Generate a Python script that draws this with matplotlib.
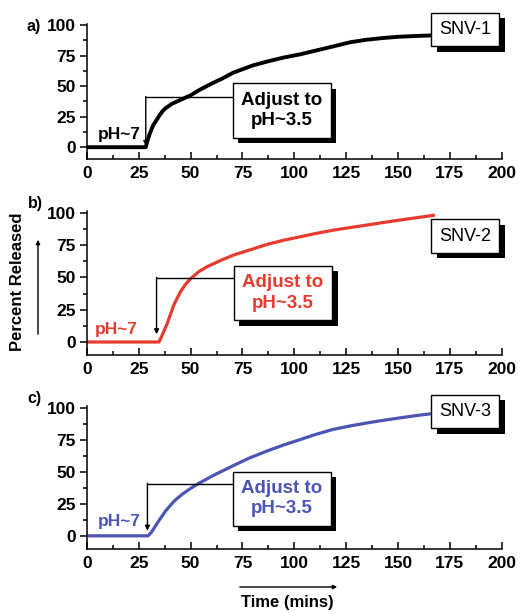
import matplotlib.pyplot as plt
import matplotlib.patheffects as pe
from matplotlib.patches import FancyArrowPatch
from matplotlib.ticker import MultipleLocator

plt.rcParams['font.family'] = ['Liberation Sans', 'DejaVu Sans']
plt.rcParams['font.weight'] = 'bold'

# release curves (time in mins, percent released)
t_snv1 = [0, 10, 20, 28.4, 29, 30.3, 32, 35, 36.5, 38, 41, 44.8, 50, 54.4, 60, 65, 70.5,
          80, 86.5, 95, 102.6, 110, 118.6, 127, 134.7, 143, 150.7, 157, 165]
p_snv1 = [0, 0, 0, 0, 4, 11, 18, 26, 29.5, 32, 35.5, 38.5, 42.5, 47, 52, 56, 61,
          67, 70, 73.5, 76, 79, 82.5, 86, 88, 89.5, 90.5, 91, 91.5]

t_snv2 = [0, 10, 20, 30, 34.8, 36.5, 38.8, 42, 45, 47.5, 50, 54, 58, 65, 70.9, 80, 87,
          95, 103, 111, 119, 127, 135, 143, 151, 159, 167]
p_snv2 = [0, 0, 0, 0, 0, 6, 14.6, 29, 38.5, 44.5, 49, 54.5, 58.3, 63.5, 67.4, 72, 75.6,
          78.8, 81.5, 84.2, 86.6, 88.6, 90.5, 92.5, 94.4, 96.2, 98]

t_snv3 = [0, 10, 20, 29.5, 31, 33, 35, 38, 42, 46, 50, 54, 62, 70.5, 78, 86.5, 95, 102.6,
          110, 118.6, 127, 134.7, 143, 150.7, 159, 167]
p_snv3 = [0, 0, 0, 0, 2.5, 7.5, 12.5, 19.5, 27, 32.5, 37, 41, 48, 54.7, 60.5, 66, 71, 75,
          79, 83, 85.8, 88, 90.2, 92, 93.9, 95.5]

xticks = [0, 25, 50, 75, 100, 125, 150, 175, 200]
yticks = [0, 25, 50, 75, 100]

panels = [
    dict(t=t_snv1, p=p_snv1, color='black', name='SNV-1', tag='a)', lw=2.8,
         pos=[0.167, 0.740, 0.798, 0.221],
         step_x=28.4, step_top=41, step_bot=1, box=(94, 30), name_y=96.5,
         ph7=(15.6, 10.6), tag_xy=(34, 26)),
    dict(t=t_snv2, p=p_snv2, color='#e63b2e', name='SNV-2', tag='b)', lw=2.3,
         pos=[0.167, 0.421, 0.798, 0.234],
         step_x=33.6, step_top=49.6, step_bot=6, box=(94.5, 38), name_y=82,
         ph7=(14, 9.3), tag_xy=(35, 203)),
    dict(t=t_snv3, p=p_snv3, color='#4a55b4', name='SNV-3', tag='c)', lw=2.3,
         pos=[0.167, 0.105, 0.798, 0.232],
         step_x=29.2, step_top=40.6, step_bot=4, box=(94, 29), name_y=97,
         ph7=(15.6, 11), tag_xy=(34, 399)),
]

fig = plt.figure(figsize=(5.2, 6.13), dpi=100)
shadow = [pe.SimplePatchShadow(offset=(4, -4), shadow_rgbFace='black', alpha=1), pe.Normal()]

for cfg in panels:
    ax = fig.add_axes(cfg['pos'])
    ax.plot(cfg['t'], cfg['p'], color=cfg['color'], lw=cfg['lw'])
    ax.set_xlim(0, 200)
    ax.set_ylim(-10, 101)
    ax.set_xticks(xticks)
    ax.set_yticks(yticks)
    ax.xaxis.set_minor_locator(MultipleLocator(12.5))
    ax.yaxis.set_minor_locator(MultipleLocator(12.5))
    ax.tick_params(axis='x', which='major', direction='in', length=5, width=1.1, labelsize=12.5, pad=5)
    ax.tick_params(axis='x', which='minor', direction='in', length=3, width=1.1)
    ax.tick_params(axis='y', which='major', direction='out', length=5, width=1.1, labelsize=12.5, pad=3)
    ax.tick_params(axis='y', which='minor', direction='out', length=3, width=1.1)
    for s in ['top', 'right']:
        ax.spines[s].set_visible(False)
    for s in ['left', 'bottom']:
        ax.spines[s].set_linewidth(1.1)

    # pH step bracket
    box_x, box_y = cfg['box']
    ax.plot([cfg['step_x'], box_x - 20], [cfg['step_top'], cfg['step_top']], color='black', lw=1)
    ax.annotate('', xy=(cfg['step_x'], cfg['step_bot']), xytext=(cfg['step_x'], cfg['step_top'] + 0.5),
                arrowprops=dict(arrowstyle='-|>', color='black', lw=1, mutation_scale=7,
                                shrinkA=0, shrinkB=0))
    txt = ax.text(box_x, box_y, 'Adjust to\npH~3.5', ha='center', va='center',
                  fontsize=13.5, color=cfg['color'], linespacing=1.25,
                  bbox=dict(boxstyle='square,pad=0.45', fc='white', ec='black', lw=1))
    txt.get_bbox_patch().set_path_effects(shadow)

    name = ax.text(182.4, cfg['name_y'], cfg['name'], ha='center', va='center',
                   fontsize=13, fontweight='normal', color='black', clip_on=False,
                   bbox=dict(boxstyle='square,pad=0.45', fc='white', ec='black', lw=1))
    name.get_bbox_patch().set_path_effects(shadow)

    ax.text(cfg['ph7'][0], cfg['ph7'][1], 'pH~7', ha='center', va='center',
            fontsize=12.5, color=cfg['color'])

    fig.text(cfg['tag_xy'][0] / 520, 1 - cfg['tag_xy'][1] / 613, cfg['tag'],
             ha='center', va='center', fontsize=11.5)

fig.text(18 / 520, 1 - 282 / 613, 'Percent Released', rotation=90,
         ha='center', va='center', fontsize=12)
fig.patches.append(FancyArrowPatch(
    (38 / 520, 1 - 337 / 613), (38 / 520, 1 - 237 / 613), transform=fig.transFigure,
    arrowstyle='-|>', mutation_scale=6, lw=1, color='black'))

fig.text(287 / 520, 1 - 603 / 613, 'Time (mins)', ha='center', va='center', fontsize=12)
fig.patches.append(FancyArrowPatch(
    (237 / 520, 1 - 587 / 613), (340 / 520, 1 - 587 / 613), transform=fig.transFigure,
    arrowstyle='-|>', mutation_scale=6, lw=1, color='black'))

fig.savefig('out.png', dpi=100)
